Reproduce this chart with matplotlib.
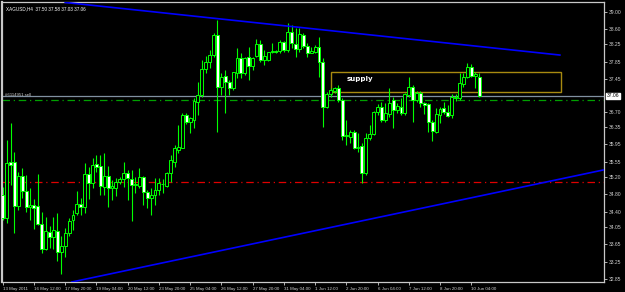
import numpy as np
import matplotlib.pyplot as plt
from matplotlib.transforms import blended_transform_factory
from matplotlib.patches import Rectangle

# XAGUSD H4 candles
opens = [34.79, 34.26, 35.54, 35.54, 34.53, 35.22, 34.88, 34.51, 34.55, 34.53,
         34.12, 33.54, 33.93, 33.82, 33.96, 33.47, 33.61, 33.91, 34.21, 34.37,
         34.58, 34.51, 35.27, 35.06, 35.50, 35.45, 34.97, 35.22, 34.95, 34.95,
         35.08, 35.15, 35.29, 35.15, 35.01, 34.99, 35.20, 34.85, 34.72, 34.79,
         34.90, 35.04, 34.99, 35.29, 35.54, 35.82, 35.87, 36.63, 36.46, 36.51,
         36.92, 37.09, 37.68, 37.84, 38.01, 38.47, 37.27, 37.52, 37.38, 37.25,
         37.59, 37.94, 37.59, 37.96, 37.75, 37.98, 38.26, 37.89, 37.89, 38.07,
         38.10, 38.10, 38.30, 38.12, 38.53, 38.26, 38.14, 38.47, 38.21, 38.05,
         38.07, 38.19, 37.84, 36.81, 37.11, 37.18, 37.25, 36.97, 36.14, 36.12,
         36.23, 35.87, 35.91, 35.29, 36.10, 36.19, 36.69, 36.81, 36.51, 36.65,
         36.97, 36.74, 36.81, 36.67, 37.09, 37.27, 36.97, 37.13, 36.90, 36.88,
         36.46, 36.23, 36.63, 36.79, 36.69, 36.63, 37.02, 37.02, 37.34, 37.50,
         37.73, 37.52, 37.50]
highs = [34.97, 36.05, 36.44, 35.77, 35.31, 35.41, 35.25, 34.95, 34.69, 35.27,
         34.39, 34.28, 34.07, 34.28, 34.37, 33.84, 34.03, 34.26, 34.44, 34.88,
         34.72, 35.52, 35.43, 35.64, 35.71, 35.71, 35.75, 35.45, 35.13, 35.18,
         35.20, 35.54, 35.36, 35.36, 35.20, 35.41, 35.22, 34.90, 34.95, 35.18,
         35.18, 35.15, 35.31, 35.71, 35.94, 36.39, 36.67, 36.67, 36.58, 37.02,
         37.38, 37.89, 37.98, 38.12, 38.51, 38.81, 37.59, 37.66, 37.43, 37.61,
         38.17, 38.05, 37.96, 38.19, 37.96, 38.37, 38.35, 38.12, 38.07, 38.28,
         38.12, 38.35, 38.33, 38.74, 38.70, 38.63, 38.63, 38.51, 38.28, 38.19,
         38.24, 38.42, 37.94, 37.15, 37.25, 37.27, 37.32, 37.02, 36.51, 36.28,
         36.28, 36.21, 35.98, 36.21, 36.39, 36.72, 36.88, 36.92, 36.90, 37.25,
         37.04, 36.90, 37.02, 37.13, 37.50, 37.32, 37.18, 37.18, 36.92, 36.90,
         36.51, 36.79, 36.81, 36.92, 36.85, 37.11, 37.11, 37.59, 37.59, 37.82,
         37.80, 37.61, 37.58]
lows = [34.21, 34.14, 35.02, 33.91, 34.44, 34.72, 34.39, 34.21, 34.00, 34.10,
        33.45, 33.52, 33.57, 33.54, 33.27, 32.97, 33.36, 33.84, 33.98, 34.33,
        34.33, 34.37, 34.69, 34.95, 35.31, 34.79, 34.79, 34.51, 34.67, 34.76,
        35.04, 34.97, 34.67, 34.19, 34.83, 34.95, 34.55, 34.49, 34.33, 34.55,
        34.79, 34.83, 34.97, 35.08, 35.43, 35.75, 35.87, 36.42, 36.21, 36.33,
        36.63, 37.04, 37.59, 37.71, 37.96, 36.23, 37.09, 36.67, 37.09, 37.20,
        37.48, 37.48, 37.55, 37.43, 37.66, 37.96, 37.84, 37.77, 37.87, 38.05,
        38.05, 38.05, 38.07, 38.07, 38.17, 37.96, 38.07, 38.17, 37.96, 38.05,
        38.05, 37.50, 36.35, 36.79, 37.04, 37.13, 36.92, 36.05, 35.94, 35.98,
        35.85, 35.77, 35.06, 35.25, 36.05, 36.17, 36.63, 36.46, 36.46, 36.58,
        36.33, 36.67, 36.63, 36.63, 37.04, 36.46, 36.92, 36.81, 36.65, 36.23,
        36.03, 36.21, 36.44, 36.65, 36.58, 36.56, 36.95, 36.97, 37.27, 37.48,
        37.50, 37.25, 37.03]
closes = [34.26, 35.52, 35.48, 34.53, 35.22, 34.88, 34.51, 34.55, 34.49, 34.12,
          33.54, 33.96, 33.82, 33.98, 33.47, 33.61, 33.91, 34.19, 34.33, 34.58,
          34.51, 35.27, 35.06, 35.48, 35.43, 34.99, 35.22, 34.95, 34.99, 35.08,
          35.15, 35.29, 35.18, 35.01, 35.04, 35.20, 34.85, 34.72, 34.79, 34.90,
          35.06, 35.03, 35.29, 35.59, 35.87, 35.89, 36.63, 36.46, 36.56, 36.95,
          37.09, 37.68, 37.84, 38.01, 38.47, 37.27, 37.50, 37.38, 37.25, 37.61,
          37.94, 37.59, 37.94, 37.75, 37.94, 38.26, 37.89, 37.98, 38.07, 38.10,
          38.07, 38.30, 38.12, 38.53, 38.28, 38.14, 38.49, 38.21, 38.05, 38.10,
          38.19, 37.84, 36.81, 37.11, 37.20, 37.25, 36.97, 36.14, 36.17, 36.23,
          35.87, 35.89, 35.29, 36.10, 36.19, 36.69, 36.81, 36.51, 36.67, 36.90,
          36.74, 36.83, 36.67, 37.11, 37.27, 36.97, 37.13, 36.90, 36.85, 36.46,
          36.26, 36.65, 36.76, 36.69, 36.60, 37.04, 37.04, 37.36, 37.50, 37.73,
          37.52, 37.57, 37.06]

x_labels = ["13 May 2011", "16 May 12:00", "17 May 20:00", "19 May 04:00",
            "20 May 12:00", "23 May 20:00", "25 May 04:00", "26 May 12:00",
            "27 May 20:00", "31 May 04:00", "1 Jun 12:00", "2 Jun 20:00",
            "6 Jun 04:00", "7 Jun 12:00", "8 Jun 20:00", "10 Jun 04:00"]
y_ticks = [39.00, 38.60, 38.25, 37.85, 37.45, 36.70, 36.35, 35.95,
           35.55, 35.20, 34.80, 34.40, 34.05, 33.65, 33.25, 32.85]

# drawing objects (bar index, price)
top_line_x = [16.0, 142.7]
top_line_y = [39.21, 38.00]
bottom_line_x = [17.7, 154.0]
bottom_line_y = [32.78, 35.36]
supply_x = [84.0, 143.0]
supply_y = [37.16, 37.62]
red_level = 35.08
order_level = 36.97
bid = closes[-1]

o = np.array(opens); h = np.array(highs); l = np.array(lows); c = np.array(closes)
idx = np.arange(len(c))

fig = plt.figure(figsize=(6.25, 2.92), dpi=100, facecolor='black')
ax = fig.add_axes([2/625, 10/292, 602/625, 280/292], facecolor='black')

# levels and trendlines (behind candles)
ax.axhline(red_level, color='#e00000', lw=0.9, ls=(0, (6, 3, 1, 3)), zorder=1)
ax.axhline(order_level, color='#00a000', lw=0.9, ls=(0, (6, 3, 1, 3)), zorder=1)
ax.axhline(bid, color='#8090a0', lw=0.9, zorder=1)
ax.add_patch(Rectangle((supply_x[0], supply_y[0]), supply_x[1] - supply_x[0],
                       supply_y[1] - supply_y[0], fill=False, ec='#a88a10', lw=1.0, zorder=1))
ax.text(supply_x[0] + 4, (supply_y[0] + supply_y[1]) / 2 + 0.06, 'supply', color='white',
        fontsize=5, fontweight='bold', va='center', zorder=5)

# candles
ax.vlines(idx, l, h, color='#00ff00', lw=0.8, zorder=2)
bull = c >= o
body_lo = np.minimum(o, c)
body_h = np.maximum(np.abs(c - o), 0.01)
ax.bar(idx[bull], body_h[bull], bottom=body_lo[bull], width=0.75,
       color='black', edgecolor='#00ff00', lw=0.7, zorder=3)
ax.bar(idx[~bull], body_h[~bull], bottom=body_lo[~bull], width=0.75,
       color='white', edgecolor='#00ff00', lw=0.7, zorder=3)

ax.plot(top_line_x, top_line_y, color='#0000ff', lw=1.2, zorder=4)
ax.plot(bottom_line_x, bottom_line_y, color='#0000ff', lw=1.2, zorder=4)

ax.text(0.5, bid + 0.02, '#6114951 sell', color='#d0d0d0', fontsize=3.1,
        va='center', family='Liberation Sans', zorder=5)

ax.set_xlim(-0.18, 154.0)
ax.set_ylim(32.78, 39.22)

ax.set_xticks(np.arange(0, 8 * len(x_labels), 8))
ax.set_xticklabels(x_labels, ha='left', family='Liberation Sans')
ax.yaxis.tick_right()
ax.set_yticks(y_ticks)
ax.set_yticklabels(['%.2f' % v for v in y_ticks], family='Liberation Sans')
ax.tick_params(axis='both', colors='#d0d0d0', length=2.5, width=0.6, pad=1)
ax.tick_params(axis='x', labelsize=3.2)
ax.tick_params(axis='y', labelsize=3.6)

for s in ax.spines.values():
    s.set_color('#c8c8c8')
    s.set_linewidth(0.9)
ax.spines['left'].set_linewidth(1.6)

tr = blended_transform_factory(ax.transAxes, ax.transData)
ax.text(1.004, bid, '%.2f' % bid, transform=tr, fontsize=3.6, color='black',
        va='center', ha='left', family='Liberation Sans',
        bbox=dict(facecolor='white', edgecolor='white', pad=0.6), zorder=6)

ax.text(0.006, 0.985, 'XAGUSD,H4  37.50 37.58 37.03 37.06', transform=ax.transAxes,
        color='white', fontsize=3.3, va='top', ha='left', family='Liberation Sans', zorder=6)

fig.savefig('out.png', dpi=100, facecolor='black')
